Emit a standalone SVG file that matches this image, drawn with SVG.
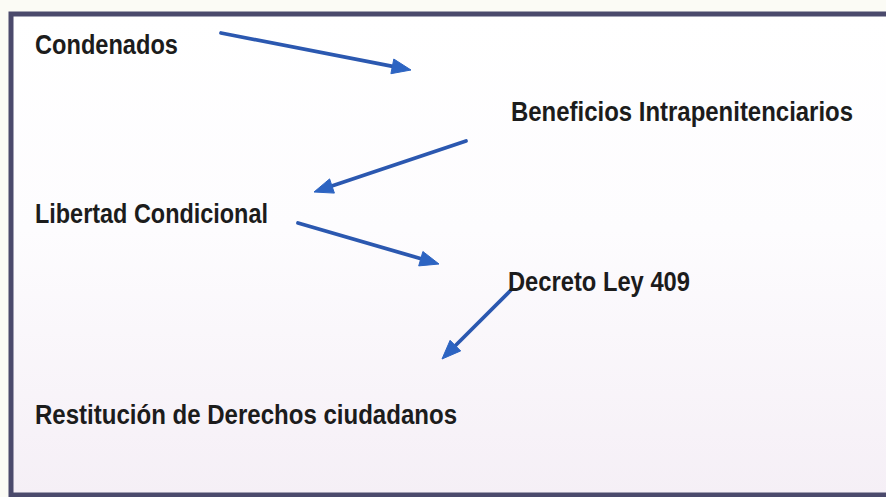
<svg xmlns="http://www.w3.org/2000/svg" width="886" height="497" viewBox="0 0 886 497">
<defs>
<linearGradient id="bg" x1="0" y1="0" x2="0" y2="1">
<stop offset="0" stop-color="#ffffff"/>
<stop offset="0.45" stop-color="#fdfcfe"/>
<stop offset="1" stop-color="#f5eff6"/>
</linearGradient>
<style>
.t{font-family:"Liberation Sans Narrow","Liberation Sans",Arial,sans-serif;font-weight:bold;font-size:27px;fill:#1c1c1c}
.c{stroke:#2b58b0;stroke-width:3.8;fill:none;stroke-linecap:round}
.h{fill:#2d64c2;stroke:#2d64c2;stroke-width:1;stroke-linejoin:round}
</style>
</defs>
<rect x="0" y="0" width="886" height="497" fill="#fbfbf5"/>
<rect x="11" y="14" width="890" height="481" fill="url(#bg)" stroke="#4b4a6c" stroke-width="5"/>
<g id="connectors">
<line class="c" x1="221" y1="33" x2="394" y2="66.7"/>
<polygon class="h" points="411,70 390.9,73.7 393.8,59"/>
<line class="c" x1="466" y1="141" x2="331" y2="186.3"/>
<polygon class="h" points="314,192 329.6,178.9 334.4,193.1"/>
<line class="c" x1="298" y1="223" x2="422" y2="259"/>
<polygon class="h" points="439,264 418.7,265.9 422.9,251.5"/>
<line class="c" x1="511" y1="290" x2="454.5" y2="346.5"/>
<polygon class="h" points="442,359 450.1,340.3 460.7,350.9"/>
</g>
<g id="n1"><text class="t" transform="scale(0.85,1)" x="41.18" y="54" textLength="168.2" lengthAdjust="spacingAndGlyphs">Condenados</text></g>
<g id="n2"><text class="t" transform="scale(0.85,1)" x="601.18" y="121" textLength="402.4" lengthAdjust="spacingAndGlyphs">Beneficios Intrapenitenciarios</text></g>
<g id="n3"><text class="t" transform="scale(0.85,1)" x="41.18" y="223" textLength="274.1" lengthAdjust="spacingAndGlyphs">Libertad Condicional</text></g>
<g id="n4"><text class="t" transform="scale(0.85,1)" x="597.65" y="291" textLength="214.1" lengthAdjust="spacingAndGlyphs">Decreto Ley 409</text></g>
<g id="n5"><text class="t" transform="scale(0.85,1)" x="41.18" y="424" textLength="496.5" lengthAdjust="spacingAndGlyphs">Restitución de Derechos ciudadanos</text></g>
</svg>
